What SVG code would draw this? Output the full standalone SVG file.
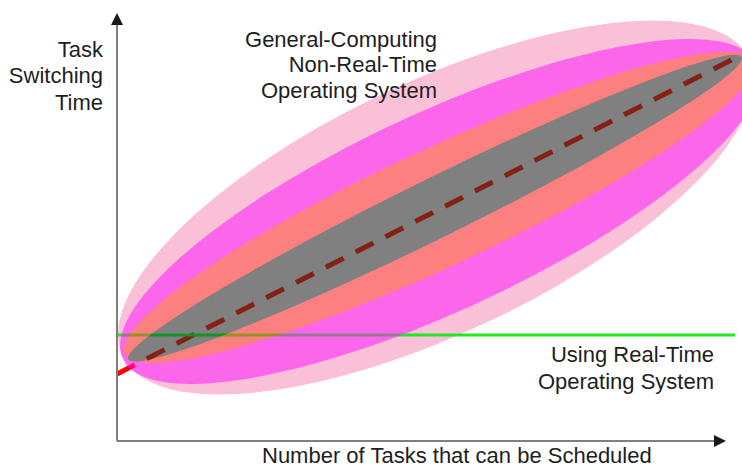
<svg xmlns="http://www.w3.org/2000/svg" width="742" height="468" viewBox="0 0 742 468">
<defs>
<style>
text{font-family:"Liberation Sans",Arial,sans-serif;font-size:22px;fill:#1e1e1e}
.r{text-anchor:end}
.axis{stroke:#7f7f7f;stroke-width:2;fill:none}
</style>
<marker id="arr" markerUnits="userSpaceOnUse" markerWidth="12" markerHeight="12" refX="0" refY="6" orient="auto">
<path d="M0,0 L12,6 L0,12 z" fill="#1a1a1a"/>
</marker>
</defs>
<rect width="742" height="468" fill="#ffffff"/>
<g id="outer-region">
<circle r="1" transform="matrix(318,-127.2,0,137,436,207.5)" fill="#FAC0D8"/>
</g>
<g id="connectors">
<line x1="117" y1="374" x2="732" y2="59.6" stroke="#ff0000" stroke-width="5" stroke-dasharray="20 13.5"/>
<line x1="117" y1="335" x2="735" y2="335" stroke="#22e822" stroke-width="3"/>
</g>
<g id="inner-regions" opacity="0.5">
<circle r="1" transform="matrix(320,-134.4,0,108,440,211.5)" fill="#ff0eff"/>
<circle r="1" transform="matrix(315,-141.75,0,64.5,439,207.4)" fill="#ff4228"/>
<circle r="1" transform="matrix(307,-149.8,0,33,435,208.2)" fill="#074228"/>
</g>
<g id="axes">
<line class="axis" x1="117" y1="441" x2="117" y2="25" marker-end="url(#arr)"/>
<line class="axis" x1="117" y1="441" x2="714" y2="441" marker-end="url(#arr)"/>
</g>
<g id="y-label">
<text class="r" x="103" y="57">Task</text>
<text class="r" x="103" y="83">Switching</text>
<text class="r" x="103" y="110">Time</text>
</g>
<g id="gp-label">
<text class="r" x="437" y="47">General-Computing</text>
<text class="r" x="437" y="72">Non-Real-Time</text>
<text class="r" x="437" y="98">Operating System</text>
</g>
<g id="rt-label">
<text class="r" x="714" y="362">Using Real-Time</text>
<text class="r" x="714" y="389">Operating System</text>
</g>
<g id="x-label">
<text x="262" y="463">Number of Tasks that can be Scheduled</text>
</g>
</svg>
